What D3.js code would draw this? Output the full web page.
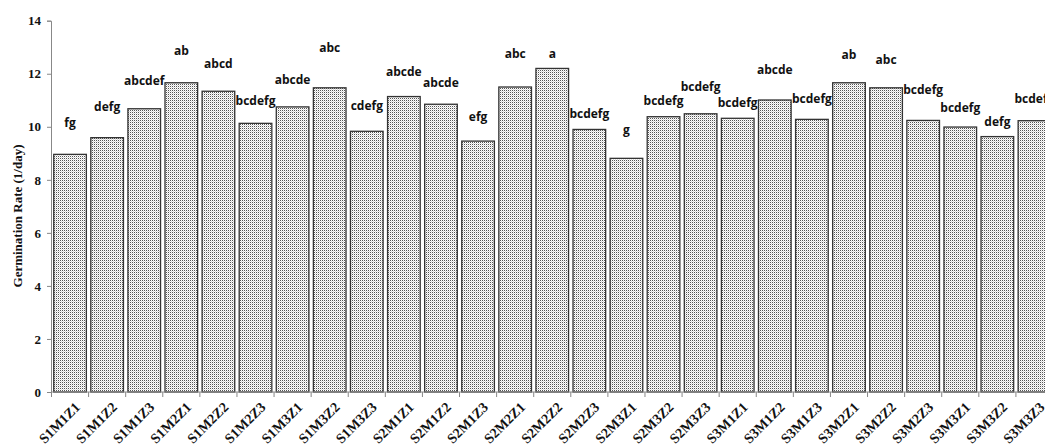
<!DOCTYPE html>
<html><head><meta charset="utf-8">
<script src="https://cdn.jsdelivr.net/npm/d3@7"></script>
<style>body{margin:0;background:#fff;overflow:hidden}
.serif{font-family:"Liberation Serif","Times New Roman",serif;font-weight:bold}
.sans{font-family:"Open Sans",sans-serif;font-weight:bold}
</style>
</head><body>
<svg id="chart" width="1045" height="447"></svg>
<script>
const categories = ["S1M1Z1","S1M1Z2","S1M1Z3","S1M2Z1","S1M2Z2","S1M2Z3","S1M3Z1","S1M3Z2","S1M3Z3",
  "S2M1Z1","S2M1Z2","S2M1Z3","S2M2Z1","S2M2Z2","S2M2Z3","S2M3Z1","S2M3Z2","S2M3Z3",
  "S3M1Z1","S3M1Z2","S3M1Z3","S3M2Z1","S3M2Z2","S3M2Z3","S3M3Z1","S3M3Z2","S3M3Z3"];
const values = [8.96,9.59,10.68,11.66,11.34,10.13,10.75,11.47,9.83,
  11.14,10.85,9.46,11.50,12.20,9.90,8.81,10.38,10.49,
  10.32,11.01,10.28,11.66,11.47,10.24,9.99,9.63,10.23];
const letters = ["fg","defg","abcdef","ab","abcd","bcdefg","abcde","abc","cdefg",
  "abcde","abcde","efg","abc","a","bcdefg","g","bcdefg","bcdefg",
  "bcdefg","abcde","bcdefg","ab","abc","bcdefg","bcdefg","defg","bcdefg"];
const letterLevels = [10.15,10.76,11.73,12.86,12.39,10.97,11.79,12.98,10.78,
  12.06,11.65,10.36,12.77,12.77,10.48,9.88,10.97,11.51,
  10.89,12.14,11.07,12.71,12.52,11.39,10.70,10.18,11.05];
const yTicks = [0,2,4,6,8,10,12,14];
const yTitle = "Germination Rate (1/day)";

const svg = d3.select("#chart");
const x = d3.scaleBand().domain(categories).range([51.5, 1053]).paddingInner(0.12).paddingOuter(0.06);
const y = d3.scaleLinear().domain([0,14]).range([392, 20.7]);

const defs = svg.append("defs");
const pat = defs.append("pattern").attr("id","dots").attr("width",2).attr("height",2)
  .attr("patternUnits","userSpaceOnUse");
pat.append("rect").attr("width",2).attr("height",2).attr("fill","#fff");
pat.append("rect").attr("x",0).attr("y",0).attr("width",1).attr("height",1).attr("fill","#555");
pat.append("rect").attr("x",1).attr("y",1).attr("width",1).attr("height",1).attr("fill","#d8d8d8");

svg.append("g").selectAll("rect").data(categories).join("rect")
  .attr("x", d => x(d)).attr("width", x.bandwidth())
  .attr("y", (d,i) => y(values[i])).attr("height", (d,i) => y(0) - y(values[i]))
  .attr("fill","url(#dots)").attr("stroke","#333").attr("stroke-width",1.3);

// y axis
const ya = svg.append("g").attr("transform","translate(51,0)")
  .call(d3.axisLeft(y).tickValues(yTicks).tickSize(4).tickPadding(6));
ya.attr("font-family", null).attr("font-size", null);
ya.select(".domain").attr("stroke","#888");
ya.selectAll(".tick line").attr("stroke","#888");
ya.selectAll("text").attr("class","serif").style("font-size","13px").attr("fill","#111");

// x axis
const boundaries = d3.range(categories.length+1).map(i => i===categories.length ? x(categories[i-1]) + x.step()*(1 - x.paddingInner()/2) : x(categories[i]) - x.step()*x.paddingInner()/2);
const xa = svg.append("g");
xa.append("line").attr("x1",51).attr("x2",1053).attr("y1",y(0)).attr("y2",y(0)).attr("stroke","#888");
xa.selectAll("line.t").data(boundaries).join("line").attr("class","t")
  .attr("x1",d=>d).attr("x2",d=>d).attr("y1",y(0)).attr("y2",y(0)+5).attr("stroke","#888");
xa.selectAll("text").data(categories).join("text")
  .attr("class","serif")
  .attr("transform", d => `translate(${x(d)+x.bandwidth()/2+4},${y(0)+9}) rotate(-45)`)
  .attr("text-anchor","end").attr("dy","0.7em")
  .style("font-size","14px").attr("fill","#111").text(d=>d);

// letters
svg.append("g").selectAll("text").data(categories).join("text")
  .attr("class","sans")
  .attr("x", d => x(d)+x.bandwidth()/2).attr("y",(d,i)=>y(letterLevels[i]))
  .attr("dy","0.35em").attr("text-anchor","middle")
  .style("font-size","12px")
  .attr("fill","#111").text((d,i)=>letters[i]);

svg.append("text").attr("class","serif").attr("transform","translate(17,216) rotate(-90)")
  .attr("text-anchor","middle").attr("dy","0.35em")
  .style("font-size","13px").attr("fill","#111").text(yTitle);
</script>
</body></html>
